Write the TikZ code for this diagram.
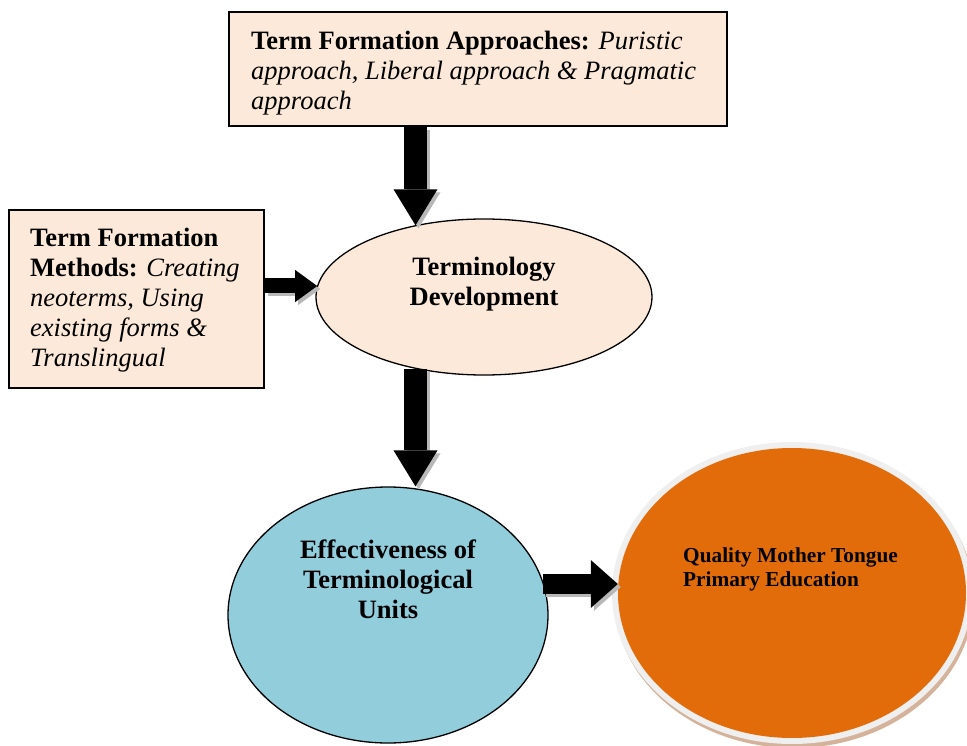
\documentclass[tikz,border=0pt]{standalone}
\usepackage{fontspec}
\setmainfont{Liberation Serif}
\usetikzlibrary{arrows.meta,shapes.geometric,calc}
\definecolor{peach}{HTML}{FDE9D9}
\definecolor{skyblue}{HTML}{92CDDC}
\definecolor{deeporange}{HTML}{E36C0A}
\definecolor{halo}{HTML}{EFEFEF}
\definecolor{tan}{HTML}{D4B39A}
\definecolor{shade}{HTML}{B8B8B8}
\newcommand\bigtxt{\fontsize{26.5}{30}\selectfont}
\newcommand\smtxt{\fontsize{21.3}{24}\selectfont}
\begin{document}
\begin{tikzpicture}[x=1pt,y=-1pt,
  box/.style={draw=black, line width=1.5pt, fill=peach, rectangle, inner sep=0pt},
  oval/.style={draw=black, line width=1.3pt, ellipse, inner sep=0pt},
  lbl/.style={inner sep=0pt, font=\bigtxt},
  vert/.style={line width=23pt, -{Triangle[width=44pt,length=36pt,line width=0pt]}},
  horsmall/.style={line width=15pt, -{Triangle[width=32pt,length=22pt,line width=0pt]}},
  horbig/.style={line width=20pt, -{Triangle[width=48pt,length=27pt,line width=0pt]}},
  blk/.style={draw=black},
  shd/.style={draw=shade, transform canvas={shift={(3pt,-3pt)}}}
]
\useasboundingbox (0,0) rectangle (967,746);

% boxes
\node[box, minimum width=498pt, minimum height=114pt] (top) at (478,69) {};
\node[box, minimum width=255pt, minimum height=178pt] (left) at (136.5,299) {};

% ellipses
\node[oval, fill=peach, minimum width=336pt, minimum height=156pt] (dev) at (484,297) {};
\node[oval, fill=skyblue, minimum width=320pt, minimum height=256pt] (blue) at (388,615) {};
\fill[tan] (794,597) ellipse [x radius=180pt, y radius=151pt];
\fill[halo] (792,593) ellipse [x radius=180pt, y radius=151pt];
\node[ellipse, inner sep=0pt, fill=deeporange, minimum width=348pt, minimum height=290pt] (orange) at (792,593) {};

% texts
\node[lbl, anchor=north west, align=left] (toptext) at (251,30.5)
  {\textbf{Term Formation Approaches:} \textit{Puristic}\\
   \textit{approach, Liberal approach \& Pragmatic}\\
   \textit{approach}};
\node[lbl, anchor=north west, align=left] (lefttext) at (30,228)
  {\textbf{Term Formation}\\
   \textbf{Methods:} \textit{Creating}\\
   \textit{neoterms, Using}\\
   \textit{existing forms \&}\\
   \textit{Translingual}};
\node[lbl, align=center, font=\bigtxt\bfseries] (devtext) at (484,284.5)
  {Terminology\\Development};
\node[lbl, align=center, font=\bigtxt\bfseries] (bluetext) at (388,579)
  {Effectiveness of\\Terminological\\Units};
\node[inner sep=0pt, anchor=north west, align=left, font=\smtxt\bfseries] (orangetext) at (683,548)
  {Quality Mother Tongue\\Primary Education};

% connector guides
\coordinate (c1) at (415.5,0);
\coordinate (r2) at (0,286);
\coordinate (r4) at (0,584);

% arrows: shadows first
\draw[vert, shd] (top.south -| c1) -- (dev.134 -| c1);
\draw[horsmall, shd] (left.east |- r2) -- (dev.176 |- r2);
\draw[vert, shd] (dev.226 -| c1) -- (blue.north -| c1);
\draw[horbig, shd] (blue.12 |- r4) -- (orange.west |- r4);

\draw[vert, blk] (top.south -| c1) -- (dev.134 -| c1);
\draw[horsmall, blk] (left.east |- r2) -- (dev.176 |- r2);
\draw[vert, blk] (dev.226 -| c1) -- (blue.north -| c1);
\draw[horbig, blk] (blue.12 |- r4) -- (orange.west |- r4);
\end{tikzpicture}
\end{document}
